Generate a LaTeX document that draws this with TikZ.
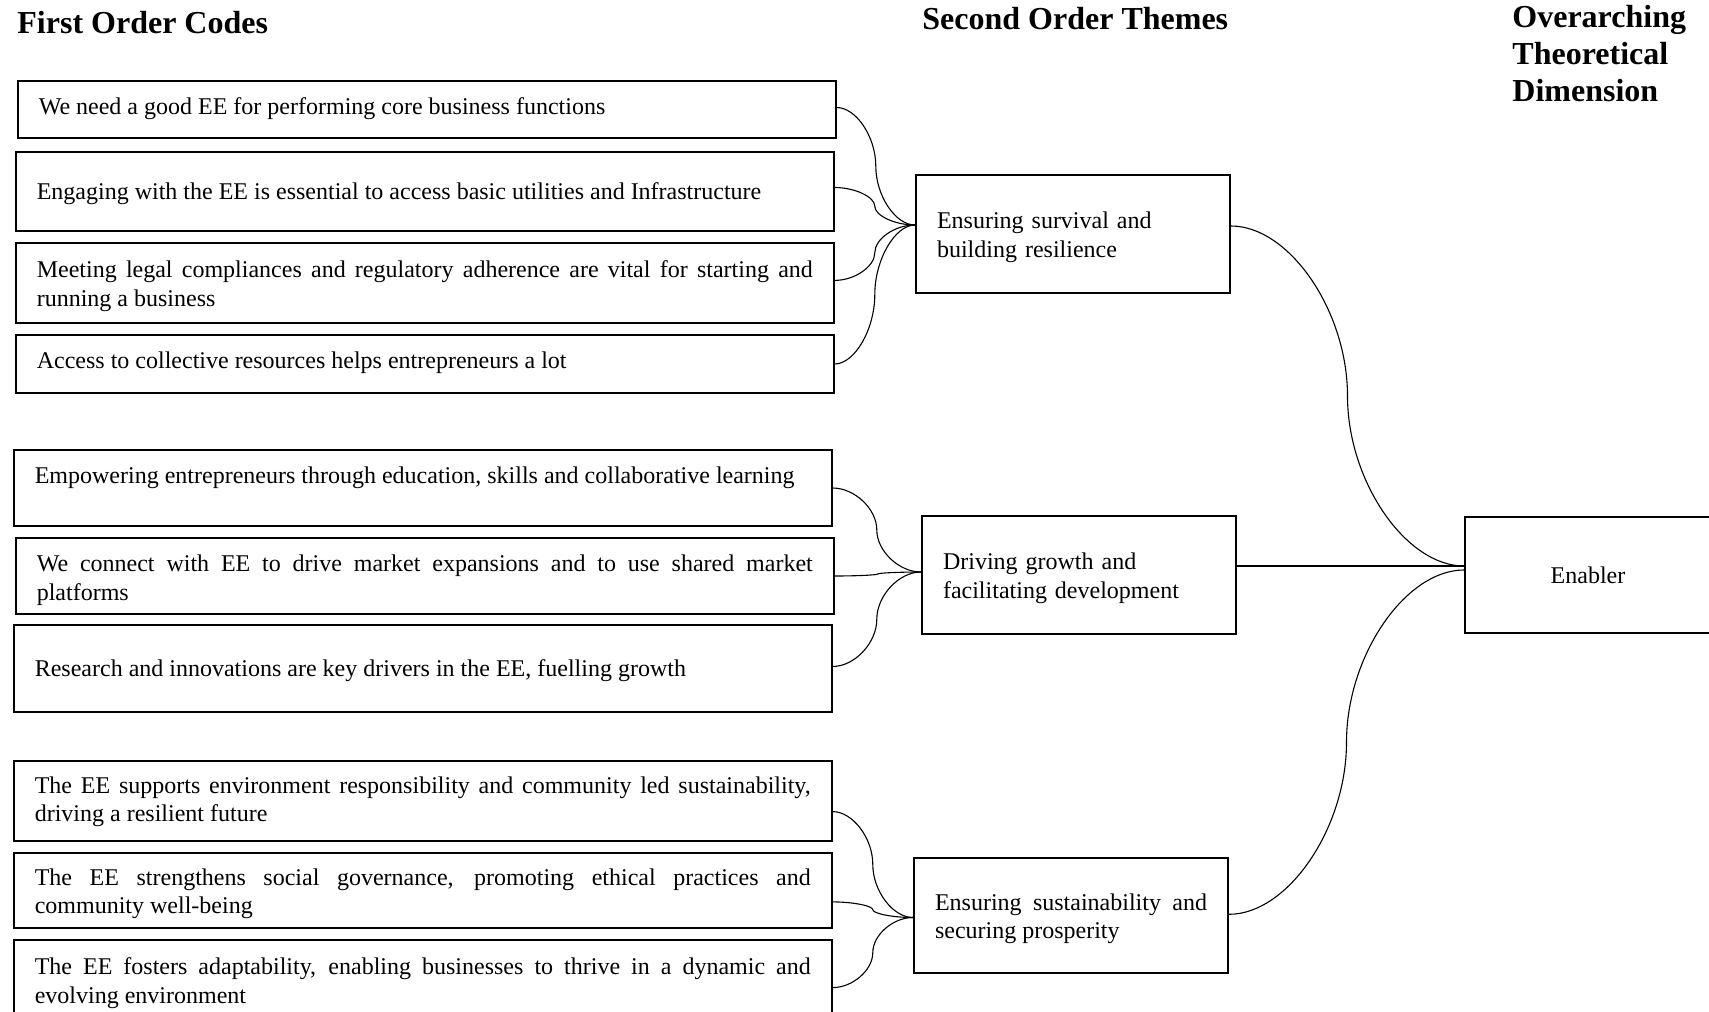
\documentclass[tikz,border=0pt]{standalone}
\usepackage{fontspec}
\setmainfont{Liberation Serif}
\usetikzlibrary{calc}
\hyphenpenalty=10000
\exhyphenpenalty=10000
\begin{document}
\begin{tikzpicture}[x=0.5pt,y=-0.5pt,
  code/.style={draw, line width=1pt, rectangle, anchor=north west,
    text width=388pt, inner xsep=10.4pt, inner ysep=0pt,
    font=\fontsize{12pt}{14.2pt}\selectfont, align=justify},
  theme/.style={draw, line width=1pt, rectangle, anchor=north west,
    text width=136pt, inner xsep=10.5pt, inner ysep=0pt,
    font=\fontsize{12pt}{14.2pt}\selectfont, align=left, text height=11.5pt},
  heading/.style={anchor=base west, inner sep=0pt,
    font=\fontsize{16pt}{18.5pt}\selectfont\bfseries},
  elbowcurve/.style={to path={
    let \p1=(\tikztostart), \p2=(\tikztotarget) in
    .. controls ({0.75*\x1+0.25*\x2},\y1) and ({0.5*\x1+0.5*\x2},{0.75*\y1+0.25*\y2})
    .. ({0.5*\x1+0.5*\x2},{0.5*\y1+0.5*\y2})
    .. controls ({0.5*\x1+0.5*\x2},{0.25*\y1+0.75*\y2}) and ({0.25*\x1+0.75*\x2},\y2)
    .. (\tikztotarget)}},
  link/.style={line width=0.55pt, elbowcurve}
]
\useasboundingbox (0,0) rectangle (1709,1012);

% column headings
\node[heading] (h1) at (17,33) {First Order Codes};
\node[heading] (h2) at (922,30) {Second Order Themes};
\node[heading, text width=95pt, align=left] (h3) at (1512,27)
  {Overarching\\Theoretical\\Dimension};

% first order codes
\node[code, minimum height=28.5pt, text height=7.1pt] (b1) at (17,80)
  {We need a good EE for performing core business functions};
\node[code, minimum height=39.5pt, text height=10.4pt] (b2) at (15,151)
  {Engaging with the EE is essential to access basic utilities and Infrastructure};
\node[code, minimum height=40pt, text height=11.5pt] (b3) at (15,242)
  {Meeting legal compliances and regulatory adherence are vital for starting and \linebreak running a business};
\node[code, minimum height=29pt, text height=7.1pt] (b4) at (15,334)
  {Access to collective resources helps entrepreneurs a lot};

\node[code, minimum height=38pt, text height=9.3pt] (b5) at (13,449)
  {Empowering entrepreneurs through education, skills and collaborative learning\newline\mbox{}};
\node[code, minimum height=38pt, text height=12.6pt] (b6) at (15,537)
  {We connect with EE to drive market expansions and to use shared market \linebreak platforms};
\node[code, minimum height=43.5pt, text height=10.4pt] (b7) at (13,624)
  {Research and innovations are key drivers in the EE, fuelling growth};

\node[code, minimum height=40pt, text height=9.3pt] (b8) at (13,760)
  {The EE supports environment responsibility and community led sustainability, \linebreak driving a resilient future};
\node[code, minimum height=37.5pt, text height=11.5pt] (b9) at (13,852)
  {The EE strengthens social governance, promoting ethical practices and \linebreak community well-being};
\node[code, minimum height=40pt, text height=11.5pt] (b10) at (13,939)
  {The EE fosters adaptability, enabling businesses to thrive in a dynamic and \linebreak evolving environment};

% second order themes
\node[theme, minimum height=59pt] (t1) at (915,174)
  {Ensuring survival and\\building resilience};
\node[theme, minimum height=59pt] (t2) at (921,515)
  {Driving growth and\\facilitating development};
\node[theme, minimum height=57.5pt, align=justify] (t3) at (913,857)
  {Ensuring sustainability and \linebreak securing prosperity};

% overarching dimension
\node[draw, line width=1pt, rectangle, anchor=north west, minimum width=123pt,
  minimum height=58pt, font=\fontsize{12pt}{14.2pt}\selectfont] (en) at (1464,516) {Enabler};

% meeting points of the connectors
\coordinate (t1in) at ([yshift=4.5pt]t1.west);
\coordinate (t2in) at ([yshift=1.5pt]t2.west);
\coordinate (t3in) at ([yshift=-1pt]t3.west);
\coordinate (enin) at ([yshift=4.5pt]en.west);
\coordinate (enin3) at ([yshift=2.5pt]en.west);

% codes to themes
\draw[link] ([yshift=1pt]b1.east) to (t1in);
\draw[link] ([yshift=2pt]b2.east) to (t1in);
\draw[link] ([yshift=1.3pt]b3.east) to (t1in);
\draw[link] (b4.east) to (t1in);

\draw[link] (b5.east) to (t2in);
\draw[link] (b6.east) to (t2in);
\draw[link] ([yshift=1pt]b7.east) to (t2in);

\draw[link] ([yshift=-5.3pt]b8.east) to (t3in);
\draw[link] ([yshift=-5.7pt]b9.east) to (t3in);
\draw[link] ([yshift=-3.8pt]b10.east) to (t3in);

% themes to dimension
\draw[link] ([yshift=4pt]t1.east) to (enin);
\draw[line width=0.55pt] ([yshift=4.5pt]t2.east) -- (enin);
\draw[link] ([yshift=0.6pt]t3.east) to (enin3);
\end{tikzpicture}
\end{document}
